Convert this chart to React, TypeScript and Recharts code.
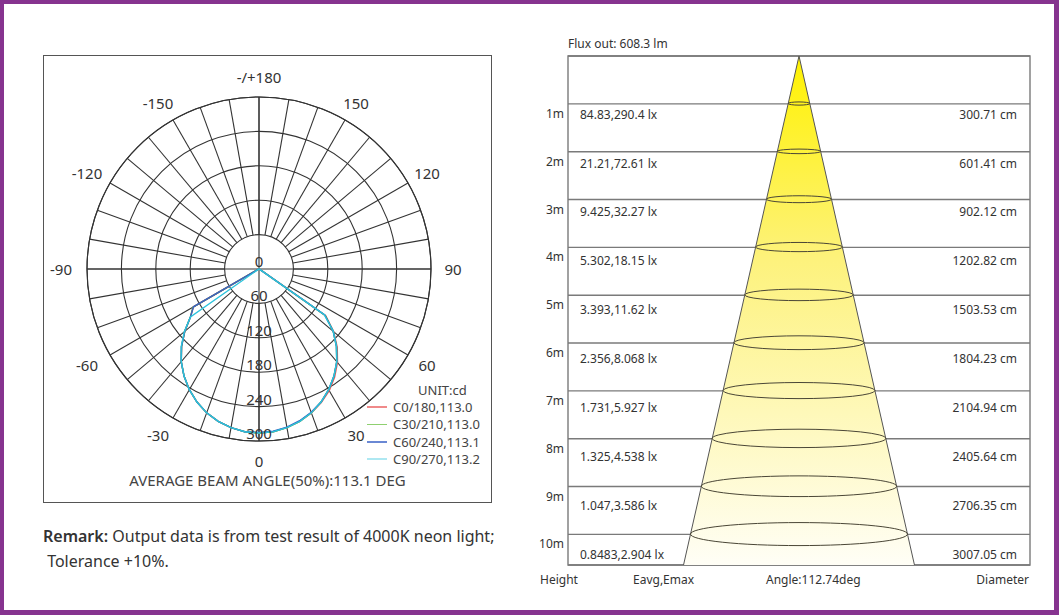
import React from "react";
import {
  RadarChart,
  Radar,
  PolarGrid,
  PolarAngleAxis,
  PolarRadiusAxis,
  ComposedChart,
  Area,
  Bar,
  XAxis,
  YAxis,
  CartesianGrid,
  ReferenceArea,
} from "recharts";

const FONT = "'Noto Sans', 'DejaVu Sans', sans-serif";

// ---------- polar intensity curves (cd), gamma 0..90 deg in 5 deg steps ----------
const GAMMA = [0, 5, 10, 15, 20, 25, 30, 35, 40, 45, 50, 55, 60, 65, 70, 75, 80, 85, 90];
// front half planes (drawn on the right side)
const C0 = [286, 285, 281, 275, 267, 257, 245, 230, 213, 193, 170, 142, 3, 0, 0, 0, 0, 0, 0];
const C30 = [286, 285, 281, 275, 267, 256, 243, 228, 211, 191, 169, 141, 3, 0, 0, 0, 0, 0, 0];
const C60 = [285, 284, 280, 274, 266, 256, 243, 228, 211, 191, 169, 140, 3, 0, 0, 0, 0, 0, 0];
const C90 = [286, 285, 281, 275, 267, 256, 243, 228, 211, 191, 169, 139, 2, 0, 0, 0, 0, 0, 0];
// opposite half planes (drawn on the left side)
const C180 = [286, 285, 281, 275, 267, 256, 243, 228, 211, 191, 169, 146, 132, 2, 0, 0, 0, 0, 0];
const C210 = [286, 285, 281, 275, 267, 256, 243, 228, 211, 191, 169, 146, 133, 2, 0, 0, 0, 0, 0];
const C240 = [286, 285, 281, 275, 267, 256, 243, 228, 211, 191, 169, 146, 132, 2, 0, 0, 0, 0, 0];
const C270 = [286, 285, 281, 275, 267, 256, 243, 228, 211, 192, 170, 146, 2, 0, 0, 0, 0, 0, 0];

const SERIES = [
  { key: "c0", name: "C0/180,113.0", color: "#e45b5b", legend: "#f08a8a", front: C0, back: C180 },
  { key: "c30", name: "C30/210,113.0", color: "#5cb83a", legend: "#8fd070", front: C30, back: C210 },
  { key: "c60", name: "C60/240,113.1", color: "#3b62c4", legend: "#6a88d4", front: C60, back: C240 },
  { key: "c90", name: "C90/270,113.2", color: "#2bc3dc", legend: "#aee8f2", front: C90, back: C270 },
];

const RING_TICKS = [0, 60, 120, 180, 240, 300];
const R_MAX = 300;
const AVG_BEAM = 113.1;

// ---------- cone diagram ----------
const HEIGHTS = [1, 2, 3, 4, 5, 6, 7, 8, 9, 10];
const EAVG = [84.83, 21.21, 9.425, 5.302, 3.393, 2.356, 1.731, 1.325, 1.047, 0.8483];
const EMAX = [290.4, 72.61, 32.27, 18.15, 11.62, 8.068, 5.927, 4.538, 3.586, 2.904];
const DIAMETER_CM = [300.71, 601.41, 902.12, 1202.82, 1503.53, 1804.23, 2104.94, 2405.64, 2706.35, 3007.05];
const BEAM_ANGLE = 112.74;
const FLUX = 608.3;

// layout
const POLAR_LEFT = 43;
const POLAR_TOP = 55;
const POLAR_SIZE = 449;
const POLAR_CX = 216;
const POLAR_CY = 214;
const OUTER_R = 172;
const ringRadii = RING_TICKS.filter((v) => v > 0).map((v) => (v / R_MAX) * OUTER_R);
const spokeAngles = Array.from({ length: 36 }, (_, i) => i * 10);

const DEPTH = 10.64; // metres shown down to the bottom of the table
const X_HALF = 32; // lateral metres each side of the axis
const TEXT_DOMAIN = [-0.19, 10.22];

// build polar rows: every 5 deg round the full circle
const polarData = Array.from({ length: 72 }, (_, i) => {
  const gamma = i * 5;
  const row: Record<string, number> = { gamma };
  SERIES.forEach((s) => {
    if (gamma <= 90) row[s.key] = s.front[GAMMA.indexOf(gamma)];
    else if (gamma >= 270) row[s.key] = s.back[GAMMA.indexOf(360 - gamma)];
    else row[s.key] = 0; // nothing emitted upwards
  });
  return row;
});

const halfTan = Math.tan(((BEAM_ANGLE / 2) * Math.PI) / 180);
const coneData = [
  { h: 0, cone: [0, 0], ring: null as number[] | null },
  ...HEIGHTS.map((h, i) => {
    const r = DIAMETER_CM[i] / 200;
    return { h, cone: [-r, r], ring: [-r, r] };
  }),
  { h: DEPTH, cone: [-DEPTH * halfTan, DEPTH * halfTan], ring: null },
];

const angleLabel = (g: number) => (g === 180 ? "-/+180" : g < 180 ? String(g) : String(g - 360));

const AngleTick = (props: any) => {
  const { x, y, payload } = props;
  const g = Number(payload.value);
  if (g % 30 !== 0 || g >= 360) return <g />;
  const a = (payload.coordinate * Math.PI) / 180;
  const lx = x + 14 * Math.cos(a) - (g > 180 ? 4 : 0);
  const ly = y - 12 * Math.sin(a);
  return (
    <text x={lx} y={ly} textAnchor="middle" dominantBaseline="central" fontSize={15} fill="#333" fontFamily={FONT}>
      {angleLabel(g)}
    </text>
  );
};

const RadiusTick = (props: any) => {
  const { x, y, payload } = props;
  return (
    <text x={x} y={y - 8} textAnchor="middle" dominantBaseline="central" fontSize={15} fill="#333" fontFamily={FONT}>
      {payload.value}
    </text>
  );
};

const RingShape = (props: any) => {
  const { x, y, width, height, payload } = props;
  if (!payload || !payload.ring || !width) return <g />;
  const w = Math.abs(width);
  return (
    <ellipse
      cx={x + width / 2}
      cy={y + height / 2}
      rx={w / 2}
      ry={Math.max(1.6, w * 0.053)}
      fill="none"
      stroke="#4a4636"
      strokeWidth={1}
    />
  );
};

const HeightTick = (props: any) => (
  <text x={props.x} y={props.y + 9.5} textAnchor="end" dominantBaseline="central" fontSize={12} fill="#333" fontFamily={FONT}>
    {props.payload.value}m
  </text>
);

const EavgTick = (props: any) => {
  const i = HEIGHTS.indexOf(props.payload.value);
  if (i < 0) return <g />;
  return (
    <text x={props.x} y={props.y} textAnchor="start" dominantBaseline="central" fontSize={12} fill="#333" fontFamily={FONT}>
      {`${EAVG[i]},${EMAX[i]} lx`}
    </text>
  );
};

const DiamTick = (props: any) => {
  const i = HEIGHTS.indexOf(props.payload.value);
  if (i < 0) return <g />;
  return (
    <text x={props.x} y={props.y} textAnchor="end" dominantBaseline="central" fontSize={12} fill="#333" fontFamily={FONT}>
      {`${DIAMETER_CM[i].toFixed(2)} cm`}
    </text>
  );
};

const abs = (left: number, top: number, extra: React.CSSProperties = {}): React.CSSProperties => ({
  position: "absolute",
  left,
  top,
  ...extra,
});

export default function App() {
  return (
    <div style={{ position: "absolute", left: 0, top: 0, width: 1059, height: 615, background: "#fff", fontFamily: FONT, color: "#333" }}>
      {/* purple frame */}
      <div
        style={abs(0, 0, {
          width: 1059,
          height: 615,
          boxSizing: "border-box",
          borderStyle: "solid",
          borderColor: "#86338f",
          borderWidth: "4px 5px 5px 4px",
        })}
      />

      {/* polar box */}
      <div style={abs(POLAR_LEFT, POLAR_TOP, { width: 449, height: 448, boxSizing: "border-box", border: "1.5px solid #555" })} />

      {/* grid spokes starting at the inner ring */}
      <div style={abs(POLAR_LEFT, POLAR_TOP)}>
        <RadarChart
          width={POLAR_SIZE}
          height={POLAR_SIZE}
          data={polarData}
          cx={POLAR_CX}
          cy={POLAR_CY}
          innerRadius={ringRadii[0]}
          outerRadius={OUTER_R}
          margin={{ top: 0, right: 0, bottom: 0, left: 0 }}
        >
          <PolarGrid gridType="circle" polarAngles={spokeAngles} polarRadius={ringRadii} stroke="#333" strokeWidth={1.1} />
        </RadarChart>
      </div>

      {/* curves, axes through the centre, labels */}
      <div style={abs(POLAR_LEFT, POLAR_TOP)}>
        <RadarChart
          width={POLAR_SIZE}
          height={POLAR_SIZE}
          data={polarData}
          cx={POLAR_CX}
          cy={POLAR_CY}
          innerRadius={0}
          outerRadius={OUTER_R}
          startAngle={-90}
          endAngle={270}
          margin={{ top: 0, right: 0, bottom: 0, left: 0 }}
        >
          <PolarGrid gridType="circle" polarAngles={[0, 90, 180, 270]} polarRadius={[OUTER_R]} stroke="#333" strokeWidth={1.1} />
          <PolarAngleAxis
            dataKey="gamma"
            type="number"
            domain={[0, 360]}
            tickCount={13}
            axisLine={false}
            tickLine={false}
            tick={(p: any) => <AngleTick {...p} />}
          />
          <PolarRadiusAxis
            angle={-90}
            domain={[0, R_MAX]}
            tickCount={RING_TICKS.length}
            axisLine={false}
            tickLine={false}
            tick={(p: any) => <RadiusTick {...p} />}
          />
          {SERIES.map((s) => (
            <Radar
              key={s.key}
              dataKey={s.key}
              name={s.name}
              stroke={s.color}
              strokeWidth={1.4}
              fill="none"
              fillOpacity={0}
              dot={false}
              isAnimationActive={false}
            />
          ))}
        </RadarChart>
      </div>

      {/* legend */}
      <div style={abs(418, 383, { fontSize: 13, lineHeight: "15px", color: "#444" })}>UNIT:cd</div>
      {SERIES.map((s, i) => (
        <div
          key={s.key}
          style={abs(367, 399 + i * 17.4, { fontSize: 13, lineHeight: "16px", color: "#444", whiteSpace: "nowrap", display: "flex", alignItems: "center" })}
        >
          <span style={{ display: "inline-block", width: 20, height: 1.5, background: s.legend, marginRight: 6 }} />
          {s.name}
        </div>
      ))}

      <div style={abs(POLAR_LEFT, 471, { width: 449, textAlign: "center", fontSize: 15, lineHeight: "18px", color: "#444" })}>
        {`AVERAGE BEAM ANGLE(50%):${AVG_BEAM} DEG`}
      </div>

      <div style={abs(43, 524, { fontSize: 16, lineHeight: "25px", color: "#333", whiteSpace: "nowrap" })}>
        <span style={{ fontWeight: 600 }}>Remark:</span> Output data is from test result of 4000K neon light;
        <br />
        &nbsp;Tolerance +10%.
      </div>

      {/* cone diagram */}
      <div style={abs(568, 36, { fontSize: 12, lineHeight: "16px", color: "#333" })}>{`Flux out: ${FLUX} lm`}</div>
      <div style={abs(520, 40)}>
        <ComposedChart
          layout="vertical"
          width={540}
          height={560}
          data={coneData}
          margin={{ top: 16, right: 30, bottom: 35, left: 0 }}
        >
          <defs>
            <linearGradient id="coneFill" x1="0" y1="0" x2="0" y2="1">
              <stop offset="0%" stopColor="#fff200" />
              <stop offset="40%" stopColor="#fdf27c" />
              <stop offset="100%" stopColor="#fffef6" />
            </linearGradient>
          </defs>
          <XAxis type="number" domain={[-X_HALF, X_HALF]} allowDataOverflow hide />
          <YAxis
            yAxisId="h"
            type="number"
            dataKey="h"
            domain={[0, DEPTH]}
            ticks={HEIGHTS}
            allowDataOverflow
            width={48}
            axisLine={false}
            tickLine={false}
            tickSize={0}
            tickMargin={4}
            interval={0}
            tick={(p: any) => <HeightTick {...p} />}
          />
          <YAxis
            yAxisId="t"
            type="number"
            dataKey="h"
            orientation="left"
            mirror
            domain={TEXT_DOMAIN}
            ticks={HEIGHTS}
            allowDataOverflow
            axisLine={false}
            tickLine={false}
            tickSize={0}
            tickMargin={12}
            interval={0}
            tick={(p: any) => <EavgTick {...p} />}
          />
          <YAxis
            yAxisId="d"
            type="number"
            dataKey="h"
            orientation="right"
            mirror
            domain={TEXT_DOMAIN}
            ticks={HEIGHTS}
            allowDataOverflow
            axisLine={false}
            tickLine={false}
            tickSize={0}
            tickMargin={13}
            interval={0}
            tick={(p: any) => <DiamTick {...p} />}
          />
          <CartesianGrid yAxisId="h" vertical={false} stroke="#7a7a7a" strokeWidth={1.4} />
          <ReferenceArea yAxisId="h" x1={-X_HALF} x2={X_HALF} y1={0} y2={DEPTH} fill="none" fillOpacity={0} stroke="#7a7a7a" strokeWidth={1.4} />
          <Area
            yAxisId="h"
            dataKey="cone"
            type="linear"
            stroke="#555"
            strokeWidth={1}
            fill="url(#coneFill)"
            fillOpacity={1}
            dot={false}
            activeDot={false}
            isAnimationActive={false}
          />
          <Bar yAxisId="h" dataKey="ring" barSize={20} shape={(p: any) => <RingShape {...p} />} isAnimationActive={false} />
        </ComposedChart>
      </div>

      <div style={abs(540, 572, { fontSize: 12, lineHeight: "16px" })}>Height</div>
      <div style={abs(633, 572, { fontSize: 12, lineHeight: "16px" })}>Eavg,Emax</div>
      <div style={abs(766, 572, { fontSize: 12, lineHeight: "16px" })}>{`Angle:${BEAM_ANGLE}deg`}</div>
      <div style={abs(929, 572, { width: 100, textAlign: "right", fontSize: 12, lineHeight: "16px" })}>Diameter</div>
    </div>
  );
}
